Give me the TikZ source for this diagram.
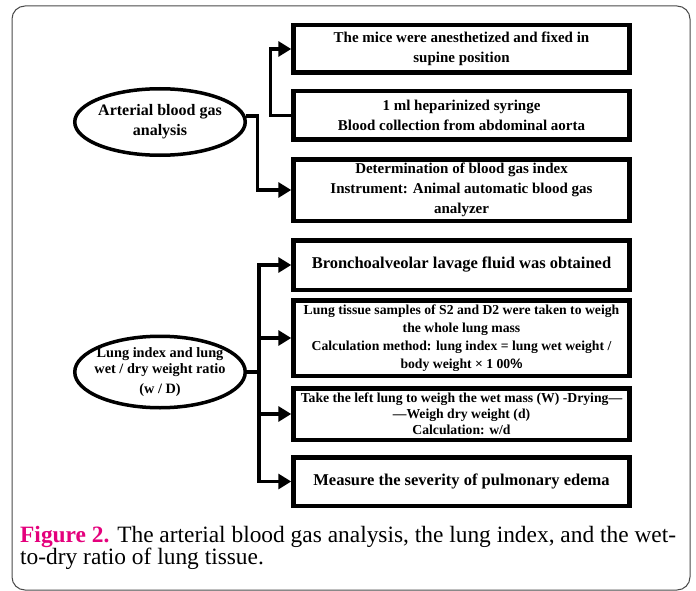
\documentclass[tikz,border=0pt]{standalone}
\usepackage{fontspec}
\setmainfont{Liberation Serif}
\usetikzlibrary{arrows.meta,shapes.geometric}
\definecolor{figpink}{HTML}{E4007C}
\definecolor{framegray}{HTML}{4A4A4A}
\tikzset{
  stepbox/.style={draw,line width=4.5pt,minimum width=336pt,align=center,font=\bfseries,inner sep=1pt},
  oval/.style={draw,ellipse,line width=3.5pt,minimum width=170.5pt,inner sep=-20pt,align=center,font=\bfseries},
  link/.style={line width=3.5pt,-{Triangle[length=13pt,width=15pt]}},
}
\begin{document}
\begin{tikzpicture}[x=1pt,y=-1pt]
\useasboundingbox (0,0) rectangle (696,591);
\draw[framegray,line width=1pt,rounded corners=13pt] (12,6) rectangle (690,590);

% arterial blood gas
\node[oval,minimum height=66.5pt,font=\bfseries\fontsize{16}{20}\selectfont] (a1) at (160,122) {Arterial blood gas\\analysis};
\node[stepbox,minimum height=47.5pt,font=\bfseries\fontsize{15}{20}\selectfont] (b1) at (461.5,49) {The mice were anesthetized and fixed in\\supine position};
\node[stepbox,minimum height=48.5pt,font=\bfseries\fontsize{15}{20}\selectfont] (b2) at (461.5,115.5) {1 ml heparinized syringe\\Blood collection from abdominal aorta};
\node[stepbox,minimum height=61.5pt,font=\bfseries\fontsize{15}{20}\selectfont] (b3) at (461.5,190) {Determination of blood gas index\\Instrument: Animal automatic blood gas\\analyzer};

\draw[link] (a1.4) -- ++(12,0) |- (b3.west);
\draw[link] (b2.west) -- ++(-21,0) |- (b1.west);

% lung index and w/d
\node[oval,minimum height=71.5pt,font=\bfseries\fontsize{14.3}{16}\selectfont] (a2) at (160,372) {Lung index and lung\\wet / dry weight ratio\\[4pt](w / D)};
\node[stepbox,minimum height=49.5pt,font=\bfseries\fontsize{16.5}{20}\selectfont] (b4) at (461.5,265) {Bronchoalveolar lavage fluid was obtained};
\node[stepbox,minimum height=75.5pt,font=\bfseries\fontsize{13.7}{18}\selectfont] (b5) at (461.5,338) {Lung tissue samples of S2 and D2 were taken to weigh\\the whole lung mass\\Calculation method: lung index = lung wet weight /\\body weight × 1 00{\fontspec{Liberation Sans}\bfseries\%}};
\node[stepbox,minimum height=51.5pt,font=\bfseries\fontsize{13.7}{16}\selectfont] (b6) at (461.5,414) {Take the left lung to weigh the wet mass (W) -Drying—\\—Weigh dry weight (d)\\Calculation: w/d};
\node[stepbox,minimum height=48.5pt,font=\bfseries\fontsize{16.5}{20}\selectfont] (b7) at (461.5,481.5) {Measure the severity of pulmonary edema};

\draw[line width=3.5pt] (a2.east) -- ++(12,0) coordinate (j2);
\draw[link] (j2) |- (b4.west);
\draw[link] (j2) |- (b7.west);
\foreach \b in {b5,b6}
  \draw[link] (j2 |- \b.west) -- (\b.west);

% caption
\node[anchor=base west,inner sep=0pt,font=\fontsize{23.4}{23.4}\selectfont] (cap1) at (20,542) {\textcolor{figpink}{\textbf{Figure 2.}} The arterial blood gas analysis, the lung index, and the wet-};
\node[anchor=base west,inner sep=0pt,font=\fontsize{23.4}{23.4}\selectfont] (cap2) at (20,564) {to-dry ratio of lung tissue.};
\end{tikzpicture}
\end{document}
